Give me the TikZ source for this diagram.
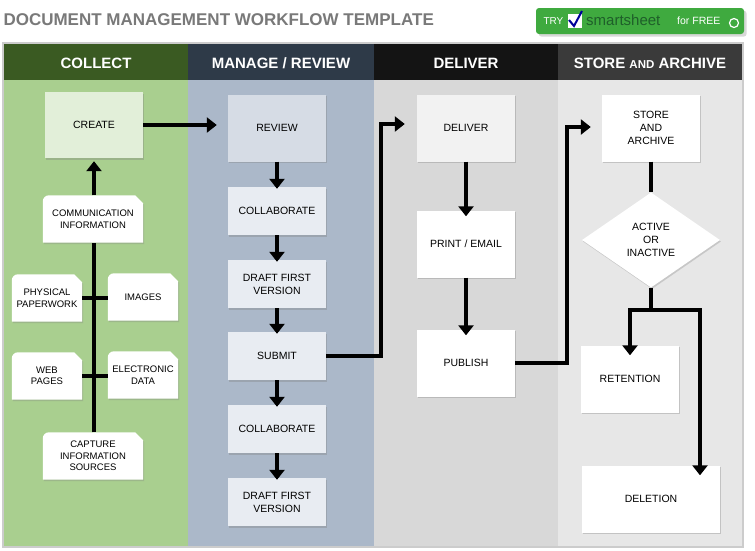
\documentclass[tikz,border=0pt]{standalone}
\usepackage{fontspec}
\setmainfont{Liberation Sans}
\usetikzlibrary{arrows.meta,shapes.geometric,shadows}
\pgfdeclarelayer{bg}\pgfdeclarelayer{docs}
\pgfsetlayers{bg,docs,main}
\definecolor{hgreen}{HTML}{3A5A22}\definecolor{hslate}{HTML}{2E3A48}
\definecolor{hblack}{HTML}{141414}\definecolor{hgray}{HTML}{3A3A3A}
\definecolor{bgreen}{HTML}{A9CF8F}\definecolor{bslate}{HTML}{ABB8C9}
\definecolor{bgray}{HTML}{D8D8D8}\definecolor{blight}{HTML}{E7E7E7}
\definecolor{btn}{HTML}{3FAA3F}\definecolor{sdark}{HTML}{1F5F2A}
\tikzset{
 box/.style={minimum width=98pt,inner sep=2pt,align=center,font=\fontsize{10.5}{13}\selectfont,drop shadow={shadow xshift=1pt,shadow yshift=-1.5pt,opacity=.35}},
 doc/.style={minimum width=70pt,minimum height=47pt,inner sep=1pt,align=center,font=\fontsize{9.5}{11.5}\selectfont},
 hdr/.style={text=white,font=\bfseries\fontsize{15}{17}\selectfont},
 ln/.style={line width=3.5pt,black},
 ar/.style={ln,-{Triangle[width=15pt,length=10pt]}},
}
\newcommand{\docfill}[1]{\begin{pgfonlayer}{docs}\fill[white,drop shadow={shadow xshift=1pt,shadow yshift=-1.5pt,opacity=.3}] (#1.south west) [rounded corners=6pt]-- (#1.north west) [sharp corners]-- ([xshift=-8pt]#1.north east) -- ([yshift=-8pt]#1.north east) -- (#1.south east) -- cycle;\end{pgfonlayer}}
\begin{document}
\begin{tikzpicture}[x=1pt,y=-1pt]
\useasboundingbox (0,0) rectangle (755,550);
% columns
\begin{pgfonlayer}{bg}
\fill[white] (0,0) rectangle (755,550);
\fill[gray!40] (2,42) rectangle (744,548);
\fill[bgreen] (4,80) rectangle (188,546);
\fill[bslate] (188,80) rectangle (374,546);
\fill[bgray] (374,80) rectangle (558,546);
\fill[blight] (558,80) rectangle (742,546);
\fill[hgreen] (4,44) rectangle (188,80);
\fill[hslate] (188,44) rectangle (374,80);
\fill[hblack] (374,44) rectangle (558,80);
\fill[hgray] (558,44) rectangle (742,80);
\end{pgfonlayer}
% title
\node[anchor=west,text=gray!95!black,font=\bfseries\fontsize{17}{19}\selectfont] (title) at (0,20) {DOCUMENT MANAGEMENT WORKFLOW TEMPLATE};
% button
\node[fill=btn,rounded corners=3pt,minimum width=208pt,minimum height=26pt,drop shadow={opacity=.3}] (btn) at (640,21) {};
\node[anchor=west,text=white,font=\fontsize{10}{12}\selectfont] (try) at (540,21) {TRY};
\node[fill=white,minimum size=14pt,inner sep=0pt] (chk) at (575,21) {};
\draw[line width=2pt,blue!60!black] (569,20) -- (574,26) -- (582,11);
\node[anchor=west,text=sdark,font=\fontsize{15}{16}\selectfont,inner sep=1pt] (ss) at (585,20) {smartsheet};
\node[anchor=west,text=white,font=\fontsize{10.5}{12}\selectfont,inner sep=1pt] (free) at (676,21) {for FREE};
\node[circle,draw=white,line width=1.2pt,minimum size=9pt,inner sep=0pt] (cur) at (734,23) {};
\node[hdr] (h1) at (96,63) {COLLECT};
\node[hdr] (h2) at (281,63) {MANAGE / REVIEW};
\node[hdr] (h3) at (466,63) {DELIVER};
\node[hdr] (h4) at (650,63) {STORE {\fontsize{11.5}{13}\selectfont AND} ARCHIVE};
% collect
\node[box,fill={rgb,255:red,226;green,239;blue,217},minimum height=66pt] (create) at (94,125) {CREATE};
\node[doc,minimum width=100pt] (comm) at (93,219) {COMMUNICATION\\INFORMATION};
\node[doc] (phys) at (47,298) {PHYSICAL\\PAPERWORK};
\node[doc] (img) at (143,297) {IMAGES};
\node[doc] (web) at (47,376) {WEB\\PAGES};
\node[doc] (elec) at (143,375) {ELECTRONIC\\DATA};
\node[doc,minimum width=100pt] (cap) at (93,456) {CAPTURE\\INFORMATION\\SOURCES};
\docfill{comm}\docfill{phys}\docfill{img}\docfill{web}\docfill{elec}\docfill{cap}
\begin{pgfonlayer}{docs}
\draw[ln] (cap.north-|94,0) -- (comm.south-|94,0);
\draw[ln] (phys.east) -- (img.west|-phys.east);
\draw[ln] (web.east) -- (elec.west|-web.east);
\end{pgfonlayer}
\draw[ar] (comm.north-|94,0) -- ([yshift=-3pt]create.south-|94,0);
% manage
\node[box,fill={rgb,255:red,214;green,220;blue,229},minimum height=67pt] (rev) at (277,128) {REVIEW};
\node[box,fill={rgb,255:red,232;green,236;blue,242},minimum height=48pt] (col1) at (277,211) {COLLABORATE};
\node[box,fill={rgb,255:red,232;green,236;blue,242},minimum height=48pt] (dr1) at (277,284) {DRAFT FIRST\\VERSION};
\node[box,fill={rgb,255:red,232;green,236;blue,242},minimum height=48pt] (sub) at (277,356) {SUBMIT};
\node[box,fill={rgb,255:red,232;green,236;blue,242},minimum height=48pt] (col2) at (277,429) {COLLABORATE};
\node[box,fill={rgb,255:red,232;green,236;blue,242},minimum height=48pt] (dr2) at (277,502) {DRAFT FIRST\\VERSION};
\draw[ar] (create.east) -- ([xshift=-11pt]rev.west|-create.east);
\foreach \a/\b in {rev/col1,col1/dr1,dr1/sub,sub/col2,col2/dr2}{\draw[ar] (\a.south) -- ([yshift=-2pt]\b.north);}
% deliver
\node[box,fill={rgb,255:red,242;green,242;blue,242},minimum height=67pt] (del) at (466,128) {DELIVER};
\node[box,fill=white,minimum height=67pt] (pr) at (466,244) {PRINT / EMAIL};
\node[box,fill=white,minimum height=67pt] (pub) at (466,363) {PUBLISH};
\draw[ar] (del.south) -- ([yshift=-6pt]pr.north);
\draw[ar] (pr.south) -- ([yshift=-6pt]pub.north);
\coordinate (s1) at (381,124);
\draw[ar] (sub.east) -| (s1) -- ([xshift=-12pt]del.west|-s1);
% store
\node[box,fill=white,minimum height=67pt] (sto) at (651,128) {STORE\\AND\\ARCHIVE};
\node[diamond,fill=white,minimum width=138pt,minimum height=95pt,inner sep=0pt,align=center,font=\fontsize{10.5}{13}\selectfont,aspect=1.45,drop shadow={shadow xshift=1pt,shadow yshift=-1.5pt,opacity=.3}] (dia) at (651,240) {ACTIVE\\OR\\INACTIVE};
\node[box,fill=white,minimum height=67pt] (ret) at (630,379) {RETENTION};
\node[box,fill=white,minimum width=138pt,minimum height=67pt] (dele) at (651,499) {DELETION};
\coordinate (p1) at (567,127);
\draw[ar] (pub.east) -| (p1) -- ([xshift=-11pt]sto.west|-p1);
\draw[ln] (sto.south) -- (dia.north);
\coordinate (j) at (651,310);
\draw[ln] (dia.south) -- (j);
\draw[ar] (j) -| ([yshift=-10pt]ret.north);
\draw[ar] (j) -| ([yshift=-10pt]dele.north-|700,0);
\end{tikzpicture}
\end{document}
